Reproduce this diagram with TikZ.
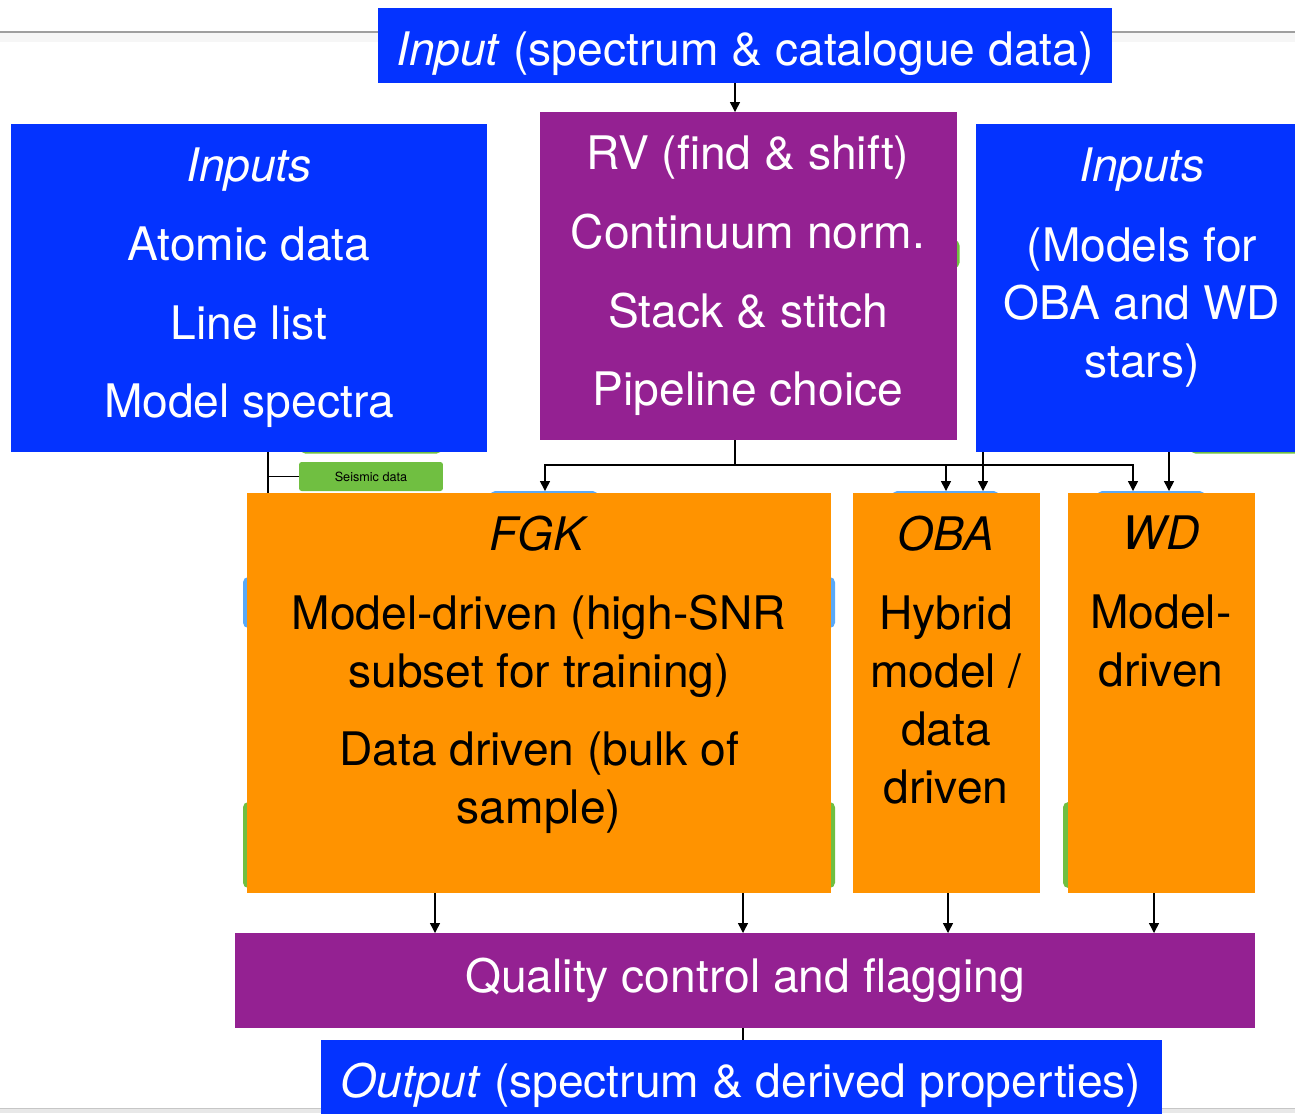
\documentclass[tikz,border=0pt]{standalone}
\usepackage{fontspec}
\setmainfont{TeX Gyre Heros}
\usetikzlibrary{arrows.meta,backgrounds}
\definecolor{cblue}{HTML}{0433FF}
\definecolor{cpurple}{HTML}{942192}
\definecolor{corange}{HTML}{FF9300}
\definecolor{cgreen}{HTML}{70BF41}
\definecolor{clblue}{HTML}{5AA9F7}
\begin{document}
\begin{tikzpicture}[x=0.02cm,y=-0.02cm,
  box/.style={rectangle,draw=none,inner sep=0,outer sep=0},
  bluebox/.style={box,fill=cblue},
  purplebox/.style={box,fill=cpurple},
  orangebox/.style={box,fill=corange},
  seisbox/.style={box,fill=cgreen,rounded corners=1.5pt,font=\fontsize{7.2}{8}\selectfont,text=black},
  bigtxt/.style={inner sep=0,outer sep=0,align=center,font=\fontsize{26.3}{33}\selectfont},
  wtxt/.style={bigtxt,text=white},
  ktxt/.style={bigtxt,text=black},
  conn/.style={line width=0.8pt,black},
  arr/.style={conn,-{Triangle[length=2mm,width=2mm]}},
  hidgreen/.style={fill=cgreen,rounded corners=3pt},
  hidblue/.style={fill=clblue,rounded corners=3pt}
]
\useasboundingbox (0,0) rectangle (1295,1113);
% boxes
\node[bluebox,minimum width=14.68cm,minimum height=1.5cm] (top) at (745,45.5) {};
\node[bluebox,minimum width=9.52cm,minimum height=6.56cm] (leftin) at (249,288) {};
\node[purplebox,minimum width=8.34cm,minimum height=6.56cm] (proc) at (748.5,276) {};
\node[bluebox,minimum width=6.64cm,minimum height=6.56cm] (rightin) at (1142,288) {};
\node[seisbox,minimum width=2.88cm,minimum height=0.58cm] (seis) at (371,476.5) {Seismic data};
\node[orangebox,minimum width=11.68cm,minimum height=8cm] (fgk) at (539,693) {};
\node[orangebox,minimum width=3.74cm,minimum height=8cm] (oba) at (946.5,693) {};
\node[orangebox,minimum width=3.74cm,minimum height=8cm] (wd) at (1161.5,693) {};
\node[purplebox,minimum width=20.4cm,minimum height=1.9cm] (qc) at (745,980.5) {};
\node[bluebox,minimum width=16.82cm,minimum height=1.6cm] (out) at (741.5,1080) {};
% texts
\node[wtxt,anchor=base] (top-t) at (745,65) {\textit{Input} (spectrum \& catalogue data)};
\node[wtxt,anchor=north] (leftin-t) at (249,148) {\textit{Inputs}\\[11.8pt]Atomic data\\[11.8pt]Line list\\[11.8pt]Model spectra};
\node[wtxt,anchor=north] (proc-t) at (748,136) {RV (find \& shift)\\[11.8pt]Continuum norm.\\[11.8pt]Stack \& stitch\\[11.8pt]Pipeline choice};
\node[wtxt,anchor=north] (rightin-t) at (1142,148) {\textit{Inputs}\\[12.5pt](Models for\\OBA and WD\\stars)};
\node[ktxt,anchor=north] (fgk-t) at (539,516) {\textit{FGK}\\[11.8pt]Model-driven (high-SNR\\subset for training)\\[11.8pt]Data driven (bulk of\\sample)};
\node[ktxt,anchor=north] (oba-t) at (946,516) {\textit{OBA}\\[11.8pt]Hybrid\\model /\\data\\driven};
\node[ktxt,anchor=north] (wd-t) at (1161,516) {\textit{WD}\\[11.8pt]Model-\\driven};
\node[wtxt,anchor=base] (qc-t) at (745,992) {Quality control and flagging};
\node[wtxt,anchor=base] (out-t) at (741,1097) {\textit{Output} (spectrum \& derived properties)};
% column coordinates
\coordinate (x268) at (268,0);
\coordinate (x735) at (735,0);
\coordinate (x545) at (545,0);
\coordinate (x946) at (946,0);
\coordinate (x983) at (983,0);
\coordinate (x1133) at (1133,0);
\coordinate (x1169) at (1169,0);
\coordinate (x435) at (435,0);
\coordinate (x743) at (743,0);
\coordinate (x948) at (948,0);
\coordinate (x1154) at (1154,0);
\coordinate (bus) at (735,465);
\coordinate (outend) at (743,1052);
\begin{scope}[on background layer]
  % page rules
  \fill[gray!7] (0,32) rectangle (1295,42);
  \draw[gray!75,line width=0.8pt] (0,32) -- (1295,32);
  \fill[gray!18] (0,1108) rectangle (1295,1113);
  \draw[gray!45,line width=0.5pt] (0,1108.5) -- (1295,1108.5);
  % partly hidden shapes
  \fill[hidgreen] (300,420) rectangle (442,453.5);
  \fill[hidgreen] (1190,420) rectangle (1320,453.5);
  \fill[hidgreen] (900,240) rectangle (959.5,268);
  \fill[hidblue] (490,491) rectangle (598,520);
  \fill[hidblue] (892,491) rectangle (999,520);
  \fill[hidblue] (1097,491) rectangle (1205,520);
  \fill[hidblue] (243,577) rectangle (835,628);
  \fill[hidgreen] (243,802) rectangle (835,888);
  \fill[hidgreen] (1063,802) rectangle (1110,888);
  % connectors
  \draw[arr] (top.south -| x735) -- (proc.north -| x735);
  \draw[conn] (proc.south -| x735) -- (bus);
  \draw[arr,shorten >=0.4mm] (bus) -| (fgk.north -| x545);
  \draw[arr,shorten >=0.4mm] (bus) -| (oba.north -| x946);
  \draw[arr,shorten >=0.4mm] (bus) -| (wd.north -| x1133);
  \draw[arr,shorten >=0.4mm] (rightin.south -| x983) -- (oba.north -| x983);
  \draw[arr,shorten >=0.4mm] (rightin.south -| x1169) -- (wd.north -| x1169);
  \draw[conn] (leftin.south -| x268) -- (fgk.north -| x268);
  \draw[conn] (x268 |- seis.west) -- (seis.west);
  \draw[arr] (fgk.south -| x435) -- (qc.north -| x435);
  \draw[arr] (fgk.south -| x743) -- (qc.north -| x743);
  \draw[arr] (oba.south -| x948) -- (qc.north -| x948);
  \draw[arr] (wd.south -| x1154) -- (qc.north -| x1154);
  \draw[arr] (qc.south -| x743) -- (outend);
\end{scope}
\end{tikzpicture}
\end{document}
